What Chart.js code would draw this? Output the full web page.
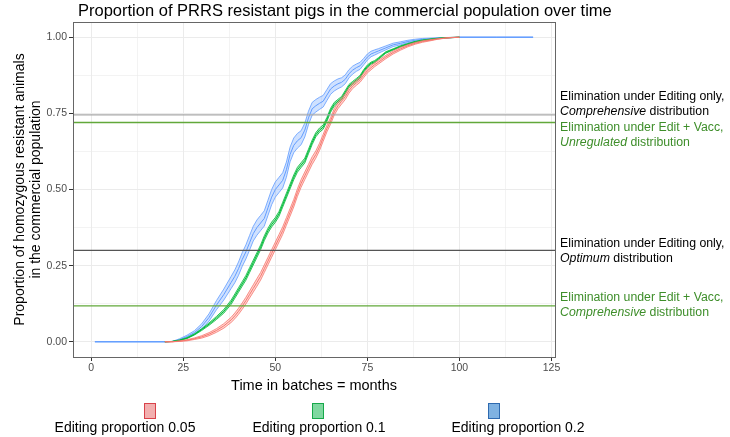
<!DOCTYPE html>
<html>
<head>
<meta charset="utf-8">
<script src="https://cdn.jsdelivr.net/npm/chart.js@4.4.1/dist/chart.umd.min.js"></script>
<style>
  html, body { margin: 0; padding: 0; background: #fff; }
</style>
</head>
<body>
<canvas id="prrsChart" width="730" height="437"></canvas>
<script>
// batches (x values)
const batches = [1, 20, 22, 24, 26, 28, 30, 32, 34, 36,
  38, 39, 40, 41, 42, 43, 44, 45, 46, 47,
  48, 49, 50, 51, 52, 53, 54, 55, 56, 57,
  58, 59, 60, 61, 62, 63, 64, 65, 66, 67,
  68, 69, 70, 71, 72, 73, 74, 75, 76, 77,
  78, 80, 82, 84, 86, 88, 90, 92, 94, 96,
  98, 100, 110, 120];

// editing proportion 0.05 (red)
const mid005 = [null, 0, 0, 0.002, 0.005, 0.01, 0.016, 0.025, 0.037, 0.052,
  0.072, 0.085, 0.1, 0.117, 0.135, 0.155, 0.175, 0.195, 0.215, 0.24,
  0.265, 0.29, 0.315, 0.34, 0.365, 0.395, 0.425, 0.455, 0.49, 0.52,
  0.545, 0.57, 0.595, 0.615, 0.64, 0.67, 0.7, 0.725, 0.755, 0.775,
  0.79, 0.805, 0.825, 0.84, 0.85, 0.86, 0.875, 0.89, 0.9, 0.91,
  0.918, 0.935, 0.95, 0.962, 0.972, 0.98, 0.986, 0.99, 0.994, 0.997,
  0.999, 1, null, null];
const band005 = [0, 0, 0, 0.002, 0.004, 0.005, 0.008, 0.01, 0.012, 0.015,
  0.017, 0.019, 0.02, 0.021, 0.022, 0.023, 0.024, 0.025, 0.025, 0.025,
  0.025, 0.025, 0.025, 0.025, 0.025, 0.025, 0.025, 0.025, 0.025, 0.025,
  0.025, 0.025, 0.025, 0.024, 0.024, 0.023, 0.022, 0.021, 0.021, 0.02,
  0.019, 0.019, 0.018, 0.017, 0.016, 0.016, 0.015, 0.014, 0.014, 0.013,
  0.012, 0.011, 0.01, 0.009, 0.007, 0.006, 0.005, 0.004, 0.002, 0.001,
  0.001, 0, 0, 0];

// editing proportion 0.1 (green)
const mid01 = [null, 0, 0.001, 0.005, 0.012, 0.024, 0.04, 0.058, 0.078, 0.1,
  0.13, 0.15, 0.17, 0.19, 0.21, 0.235, 0.26, 0.285, 0.31, 0.34,
  0.365, 0.385, 0.4, 0.42, 0.45, 0.48, 0.51, 0.54, 0.565, 0.58,
  0.595, 0.625, 0.655, 0.68, 0.695, 0.705, 0.73, 0.76, 0.78, 0.79,
  0.8, 0.82, 0.84, 0.85, 0.86, 0.87, 0.89, 0.905, 0.915, 0.92,
  0.93, 0.95, 0.96, 0.97, 0.978, 0.985, 0.99, 0.993, 0.996, 0.998,
  0.999, 1, null, null];
const band01 = [0, 0, 0, 0.002, 0.003, 0.004, 0.006, 0.008, 0.01, 0.012,
  0.014, 0.014, 0.015, 0.015, 0.016, 0.016, 0.016, 0.016, 0.016, 0.016,
  0.016, 0.016, 0.016, 0.016, 0.016, 0.016, 0.016, 0.016, 0.016, 0.016,
  0.016, 0.015, 0.015, 0.014, 0.014, 0.014, 0.013, 0.013, 0.012, 0.012,
  0.011, 0.011, 0.01, 0.01, 0.009, 0.009, 0.008, 0.008, 0.007, 0.007,
  0.006, 0.005, 0.004, 0.004, 0.003, 0.003, 0.002, 0.002, 0.001, 0.001,
  0.001, 0, 0, 0];

// editing proportion 0.2 (blue)
const mid02 = [0, 0, 0.001, 0.007, 0.017, 0.03, 0.05, 0.08, 0.12, 0.155,
  0.195, 0.215, 0.24, 0.27, 0.295, 0.325, 0.355, 0.375, 0.39, 0.405,
  0.44, 0.475, 0.5, 0.515, 0.53, 0.565, 0.615, 0.645, 0.66, 0.67,
  0.695, 0.735, 0.765, 0.775, 0.783, 0.79, 0.81, 0.83, 0.84, 0.847,
  0.852, 0.862, 0.88, 0.892, 0.9, 0.906, 0.92, 0.935, 0.945, 0.95,
  0.955, 0.965, 0.975, 0.98, 0.986, 0.99, 0.993, 0.995, 0.997, 0.998,
  0.999, 1, 1, 1];
const band02 = [0, 0, 0, 0.006, 0.009, 0.012, 0.018, 0.024, 0.03, 0.036,
  0.04, 0.042, 0.044, 0.045, 0.046, 0.048, 0.048, 0.05, 0.05, 0.05,
  0.05, 0.05, 0.05, 0.05, 0.05, 0.05, 0.048, 0.048, 0.048, 0.046,
  0.045, 0.044, 0.042, 0.041, 0.04, 0.038, 0.036, 0.035, 0.033, 0.032,
  0.03, 0.029, 0.027, 0.026, 0.024, 0.023, 0.021, 0.02, 0.018, 0.017,
  0.015, 0.013, 0.011, 0.01, 0.008, 0.007, 0.006, 0.004, 0.003, 0.002,
  0.001, 0, 0, 0];

const seriesLabels = ['Editing proportion 0.05', 'Editing proportion 0.1', 'Editing proportion 0.2'];
const xTickValues = [0, 12.5, 25, 37.5, 50, 62.5, 75, 87.5, 100, 112.5, 125];
const yTickValues = [0, 0.125, 0.25, 0.375, 0.5, 0.625, 0.75, 0.875, 1];

// elimination thresholds (horizontal lines)
const thresholds = [0.745, 0.72, 0.30, 0.118];
const thresholdNotes = [
  ['Elimination under Editing only,', 'Comprehensive', ' distribution'],
  ['Elimination under Edit + Vacc,', 'Unregulated', ' distribution'],
  ['Elimination under Editing only,', 'Optimum', ' distribution'],
  ['Elimination under Edit + Vacc,', 'Comprehensive', ' distribution']
];

// styles
const lineColors = ['#F8766D', '#00BA38', '#619CFF'];
const fillColors = ['rgba(248,118,109,0.3)', 'rgba(0,186,56,0.3)', 'rgba(97,156,255,0.3)'];
const keyFills = ['#F2AFAF', '#7FD8A0', '#7FB2E2'];
const keyBorders = ['#D9424A', '#16A84A', '#2E6AB0'];
const thresholdColors = ['#A8A8A8', '#62A83A', '#555555', '#62A83A'];
const noteColors = ['#000000', '#3E8E2A', '#000000', '#3E8E2A'];
const noteOffsets = [[-18, -3.5], [5.5, 20], [-6.5, 8.5], [-8, 6.5]];
const keyCenters = [150, 318, 494];
const keyLabelCenters = [125, 319, 518];
const FONT = '"Liberation Sans", Arial, sans-serif';

function edge(mid, band, sign) {
  return batches.map((t, i) => ({ x: t, y: mid[i] === null ? null : mid[i] + sign * band[i] / 2 }));
}

const groups = [[mid005, band005], [mid01, band01], [mid02, band02]];
const datasets = [];
groups.forEach((g, i) => {
  const base = datasets.length;
  datasets.push({
    label: seriesLabels[i] + ' low',
    data: edge(g[0], g[1], -1),
    borderColor: lineColors[i], borderWidth: 0.8, pointRadius: 0, fill: false, tension: 0
  });
  datasets.push({
    label: seriesLabels[i] + ' high',
    data: edge(g[0], g[1], 1),
    borderColor: lineColors[i], borderWidth: 0.8, pointRadius: 0,
    fill: { target: base }, backgroundColor: fillColors[i], tension: 0
  });
  datasets.push({
    label: seriesLabels[i],
    data: edge(g[0], g[1], 0),
    borderColor: lineColors[i], borderWidth: 1, pointRadius: 0, fill: false, tension: 0
  });
});

const extras = {
  id: 'extras',
  afterDatasetsDraw(chart) {
    const c = chart.ctx, a = chart.chartArea, ys = chart.scales.y;
    c.save();
    thresholds.forEach((v, i) => {
      const y = ys.getPixelForValue(v);
      c.strokeStyle = thresholdColors[i];
      c.lineWidth = i === 2 ? 1.1 : 1.4;
      c.beginPath(); c.moveTo(a.left, y); c.lineTo(a.right, y); c.stroke();
    });
    // panel border
    c.strokeStyle = '#666';
    c.lineWidth = 1;
    c.strokeRect(a.left + 0.5, a.top + 0.5, a.right - a.left, a.bottom - a.top);
    c.restore();
  },
  afterDraw(chart) {
    const c = chart.ctx, a = chart.chartArea, ys = chart.scales.y;
    c.save();
    // title
    c.fillStyle = '#000';
    c.font = '16.5px ' + FONT;
    c.textBaseline = 'middle';
    c.textAlign = 'left';
    c.fillText('Proportion of PRRS resistant pigs in the commercial population over time', 78, 11);

    // notes beside threshold lines
    thresholds.forEach((v, i) => {
      const y = ys.getPixelForValue(v);
      const n = thresholdNotes[i];
      const x = a.right + 5;
      c.fillStyle = noteColors[i];
      c.font = '12.3px ' + FONT;
      c.fillText(n[0], x, y + noteOffsets[i][0]);
      c.font = 'italic 12.3px ' + FONT;
      c.fillText(n[1], x, y + noteOffsets[i][1]);
      const w = c.measureText(n[1]).width;
      c.font = '12.3px ' + FONT;
      c.fillText(n[2], x + w, y + noteOffsets[i][1]);
    });

    // legend: key box above label
    c.font = '14px ' + FONT;
    c.textAlign = 'center';
    seriesLabels.forEach((s, i) => {
      c.fillStyle = keyFills[i];
      c.strokeStyle = keyBorders[i];
      c.lineWidth = 1;
      c.fillRect(keyCenters[i] - 5.5, 403.5, 11, 15);
      c.strokeRect(keyCenters[i] - 5.5, 403.5, 11, 15);
      c.fillStyle = '#000';
      c.fillText(s, keyLabelCenters[i], 428);
    });
    c.restore();
  }
};

const ctx = document.getElementById('prrsChart').getContext('2d');
const chart = new Chart(ctx, {
  type: 'line',
  data: { datasets: datasets },
  options: {
    responsive: false,
    animation: false,
    spanGaps: false,
    layout: { padding: { left: 12, right: 175, top: 22, bottom: 42 } },
    plugins: { legend: { display: false }, tooltip: { enabled: false } },
    scales: {
      x: {
        type: 'linear', min: -4.95, max: 125.95,
        afterBuildTicks: s => { s.ticks = xTickValues.map(v => ({ value: v })); },
        afterFit: s => { s.height = 38; },
        ticks: {
          autoSkip: false, maxRotation: 0, padding: 1, color: '#4D4D4D',
          font: { family: FONT, size: 10.5 },
          callback: v => (v % 25 === 0 ? String(v) : '')
        },
        grid: {
          color: '#EBEBEB',
          lineWidth: c => (c.tick && c.tick.value % 25 === 0 ? 1 : 0.6),
          tickColor: c => (c.tick && c.tick.value % 25 === 0 ? '#333' : 'rgba(0,0,0,0)'),
          tickLength: 4
        },
        border: { display: false },
        title: {
          display: true, text: 'Time in batches = months', color: '#000',
          font: { family: FONT, size: 14.5 }, padding: { top: 3, bottom: 0 }
        }
      },
      y: {
        type: 'linear', min: -0.05, max: 1.05,
        afterBuildTicks: s => { s.ticks = yTickValues.map(v => ({ value: v })); },
        afterFit: s => { s.width = 61; },
        ticks: {
          autoSkip: false, padding: 2, color: '#4D4D4D',
          font: { family: FONT, size: 10.5 },
          callback: v => (Math.abs(v * 4 - Math.round(v * 4)) < 1e-9 ? v.toFixed(2) : '')
        },
        grid: {
          color: '#EBEBEB',
          lineWidth: c => (c.tick && Math.abs(c.tick.value * 4 - Math.round(c.tick.value * 4)) < 1e-9 ? 1 : 0.6),
          tickColor: c => (c.tick && Math.abs(c.tick.value * 4 - Math.round(c.tick.value * 4)) < 1e-9 ? '#333' : 'rgba(0,0,0,0)'),
          tickLength: 4
        },
        border: { display: false },
        title: {
          display: true, text: ['Proportion of homozygous resistant animals', 'in the commercial population'],
          color: '#000', font: { family: FONT, size: 14, lineHeight: 1.15 }, padding: { top: 0, bottom: 2 }
        }
      }
    }
  },
  plugins: [extras]
});
</script>
</body>
</html>
